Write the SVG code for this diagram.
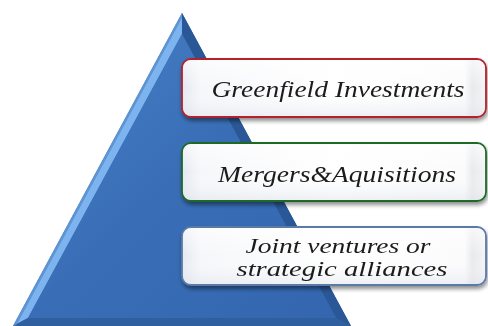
<svg xmlns="http://www.w3.org/2000/svg" width="488" height="326" viewBox="0 0 488 326">
<defs>
<linearGradient id="face" x1="0" y1="0" x2="1" y2="1">
<stop offset="0" stop-color="#4680c8"/>
<stop offset="0.5" stop-color="#396eb6"/>
<stop offset="1" stop-color="#3366ae"/>
</linearGradient>
<linearGradient id="boxfill" x1="0" y1="0" x2="1" y2="0">
<stop offset="0" stop-color="#e4e8f0"/>
<stop offset="0.06" stop-color="#f6f7fa"/>
<stop offset="0.5" stop-color="#ffffff"/>
<stop offset="0.93" stop-color="#fbfbfc"/>
<stop offset="0.955" stop-color="#e8e9ec"/>
<stop offset="1" stop-color="#f4f4f6"/>
</linearGradient>
<linearGradient id="boxgloss" x1="0" y1="0" x2="0" y2="1">
<stop offset="0" stop-color="#ffffff" stop-opacity="0.6"/>
<stop offset="0.5" stop-color="#ffffff" stop-opacity="0"/>
<stop offset="1" stop-color="#dde2ea" stop-opacity="0.5"/>
</linearGradient>
<filter id="shadow" x="-10%" y="-20%" width="120%" height="150%">
<feGaussianBlur in="SourceAlpha" stdDeviation="2"/>
<feOffset dx="1" dy="3" result="b"/>
<feComponentTransfer><feFuncA type="linear" slope="0.45"/></feComponentTransfer>
<feMerge><feMergeNode/><feMergeNode in="SourceGraphic"/></feMerge>
</filter>
</defs>
<style>
.box{fill:url(#boxfill);stroke-width:1.8}
.gloss{fill:url(#boxgloss);stroke:none}
.lbl{font-family:"Liberation Serif","Times New Roman",serif;font-style:italic;fill:#1a1a1a;text-anchor:middle}
</style>
<g id="pyramid">
<polygon points="182,13 351,326 13,326" fill="#3468ae"/>
<polygon points="182,13 182,34 28,318 13,326" fill="#7db3ee"/>
<polygon points="182,13 351,326 336,318 182,34" fill="#2a5796"/>
<polygon points="13,326 28,318 336,318 351,326" fill="#2f5f9e"/>
<polygon points="182,34 336,318 28,318" fill="url(#face)"/>
<polygon points="182,13 13,326 16,326 182,18" fill="#4a7fc0" opacity="0.6"/>
</g>
<g id="node-greenfield" filter="url(#shadow)">
<rect class="box" x="182" y="59" width="304" height="58" rx="9" stroke="#b3222b"/>
<rect class="gloss" x="183" y="60" width="302" height="56" rx="8"/>
<text class="lbl" x="338" y="97" font-size="24" textLength="253" lengthAdjust="spacingAndGlyphs">Greenfield Investments</text>
</g>
<g id="node-mergers" filter="url(#shadow)">
<rect class="box" x="182" y="143" width="304" height="58" rx="9" stroke="#1f6b28"/>
<rect class="gloss" x="183" y="144" width="302" height="56" rx="8"/>
<text class="lbl" x="337" y="182" font-size="24" textLength="238" lengthAdjust="spacingAndGlyphs">Mergers&amp;Aquisitions</text>
</g>
<g id="node-joint" filter="url(#shadow)">
<rect class="box" x="182" y="227" width="304" height="58" rx="9" stroke="#5a7aa8"/>
<rect class="gloss" x="183" y="228" width="302" height="56" rx="8"/>
<text class="lbl" x="338" y="253" font-size="22" textLength="185" lengthAdjust="spacingAndGlyphs">Joint ventures or</text>
<text class="lbl" x="342" y="276" font-size="22" textLength="211" lengthAdjust="spacingAndGlyphs">strategic alliances</text>
</g>
<g id="connectors"/>
</svg>
